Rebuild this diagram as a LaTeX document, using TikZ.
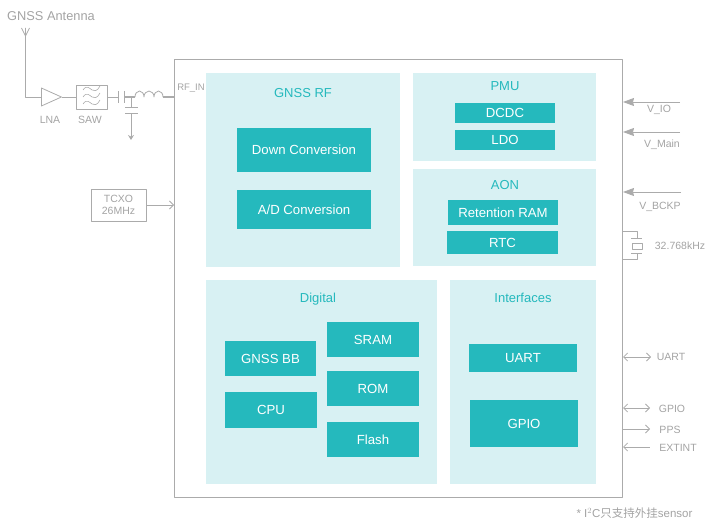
\documentclass[tikz,border=0pt]{standalone}
\usepackage{fontspec}
\setmainfont{Liberation Sans}
\newfontfamily\cjkfont{Noto Sans CJK SC}
\usetikzlibrary{shapes.geometric,arrows.meta}
\definecolor{panelbg}{HTML}{D8F1F3}
\definecolor{blockbg}{HTML}{25B9BD}
\definecolor{linegray}{HTML}{ABABAB}
\definecolor{textgray}{HTML}{A3A3A3}
\tikzset{
  panel/.style={fill=panelbg, inner sep=0pt, anchor=north west},
  paneltitle/.style={text=blockbg, font=\fontsize{13}{15}\selectfont},
  block/.style={fill=blockbg, text=white, inner sep=0pt, font=\fontsize{13.2}{15}\selectfont},
  wire/.style={draw=linegray, line width=0.8pt},
  label/.style={text=textgray, inner sep=0pt, font=\fontsize{10.5}{13}\selectfont},
  powerin/.style={wire, -{Stealth[length=11pt,width=8pt,inset=1pt]}},
  openio/.style={wire, {Straight Barb[length=4pt,width=8pt]}-{Straight Barb[length=4pt,width=8pt]}},
  openout/.style={wire, -{Straight Barb[length=4pt,width=8pt]}},
  openin/.style={wire, {Straight Barb[length=4pt,width=8pt]}-}
}
\begin{document}
\begin{tikzpicture}[x=1pt,y=-1pt, line join=round]
    \useasboundingbox (0,0) rectangle (705,519);
    
    % chip outline
    \node[draw=linegray, line width=1pt, inner sep=0pt, minimum width=448pt, minimum height=438pt, anchor=north west] (chip) at (174,59) {};
    
    % panels
    \node[panel, minimum width=194pt, minimum height=194pt] (rf) at (206,73) {};
    \node[panel, minimum width=183pt, minimum height=88pt] (pmu) at (413,73) {};
    \node[panel, minimum width=183pt, minimum height=97pt] (aon) at (413,169) {};
    \node[panel, minimum width=231pt, minimum height=204pt] (digital) at (206,280) {};
    \node[panel, minimum width=146pt, minimum height=204pt] (iface) at (450,280) {};
    \node[paneltitle] at (303,93) {GNSS RF};
    \node[paneltitle] at (505,86) {PMU};
    \node[paneltitle] at (505,185) {AON};
    \node[paneltitle] at (318,299) {Digital};
    \node[paneltitle] at (523,298) {Interfaces};
    
    % blocks
    \node[block, minimum width=134pt, minimum height=44pt] (down) at (304,150) {Down Conversion};
    \node[block, minimum width=134pt, minimum height=39pt] (adc) at (304,209.5) {A/D Conversion};
    \node[block, minimum width=100pt, minimum height=20pt] (dcdc) at (505,113) {DCDC};
    \node[block, minimum width=100pt, minimum height=20pt] (ldo) at (505,140) {LDO};
    \node[block, minimum width=110pt, minimum height=25pt] (ram) at (503,212.5) {Retention RAM};
    \node[block, minimum width=111pt, minimum height=23pt] (rtc) at (502.5,242.5) {RTC};
    \node[block, minimum width=91pt, minimum height=35pt] (bb) at (270.5,358.5) {GNSS BB};
    \node[block, minimum width=92pt, minimum height=36pt] (cpu) at (271,410) {CPU};
    \node[block, minimum width=92pt, minimum height=35pt] (sram) at (373,339.5) {SRAM};
    \node[block, minimum width=92pt, minimum height=35pt] (rom) at (373,388.5) {ROM};
    \node[block, minimum width=92pt, minimum height=35pt] (flash) at (373,439.5) {Flash};
    \node[block, minimum width=108pt, minimum height=28pt] (uart) at (523,358) {UART};
    \node[block, minimum width=108pt, minimum height=47pt] (gpio) at (524,423.5) {GPIO};
    
    % RF chain
    \node[label, font=\fontsize{12.8}{15}\selectfont] at (51,16) {GNSS Antenna};
    \coordinate (ant) at (25.5,36);
    \coordinate (corner) at (25.5,97);
    \draw[wire] (21.5,28)--(ant)--(29.5,28) (ant)--(25.5,28);
    \node[draw=linegray, line width=0.8pt, isosceles triangle, isosceles triangle stretches, inner sep=0pt, minimum height=20pt, minimum width=18pt, anchor=west] (lna) at (41,97) {};
    \node[draw=linegray, line width=0.8pt, inner sep=0pt, minimum width=31pt, minimum height=24pt] (saw) at (91.5,97) {};
    \foreach \dy in {-7,0,7}
        \draw[linegray, line width=0.6pt] (83,97+\dy) .. controls (87,97+\dy-6) and (90,97+\dy-1) .. (92,97+\dy) .. controls (94,97+\dy+1) and (97,97+\dy+2) .. (100,97+\dy-4);
    \draw[wire] (ant)--(corner)--(lna.west);
    \draw[wire] (lna.east)--(saw.west);
    \coordinate (capa) at (118,97);
    \coordinate (capb) at (124,97);
    \coordinate (tee) at (131,97);
    \coordinate (coilin) at (135,97);
    \coordinate (coilout) at (163,97);
    \coordinate (rfpin) at (chip.west |- tee);
    \draw[wire] (saw.east)--(capa);
    \draw[wire, line width=1pt] (118,91)--(118,103) (124,91)--(124,103);
    \draw[wire, line width=1.2pt] (capb)--(coilin);
    \draw[wire] (coilin) arc (180:360:4.5 and 6) arc (180:360:5 and 6) arc (180:360:4.5 and 6);
    \draw[wire, line width=1.2pt] (coilout)--(rfpin);
    \node[label, font=\fontsize{9.5}{12}\selectfont] at (191,88) {RF\_IN};
    \node[label] at (50,120) {LNA};
    \node[label] at (90,120) {SAW};
    \coordinate (shunta) at (131,108);
    \coordinate (shuntb) at (131,114);
    \coordinate (gnd) at (131,140);
    \draw[wire] (tee)--(shunta);
    \draw[wire, line width=1pt] (125,108)--(138,108) (125,114)--(138,114);
    \draw[wire, -{Stealth[length=5pt,width=6pt]}] (shuntb)--(gnd);
    
    % clock
    \node[draw=linegray, line width=0.8pt, inner sep=0pt, minimum width=55pt, minimum height=32pt, text=textgray, align=center, font=\fontsize{10.5}{12.5}\selectfont] (tcxo) at (118.5,205) {TCXO\\26MHz};
    \draw[openout] (tcxo.east)--(tcxo.east -| chip.west);
    
    % supplies
    \foreach \nm/\x/\y/\tx/\ty/\txt in {vio/680/102/659/110/V\_IO, vmain/680/132/662/145/V\_Main, vbckp/681/192/660/207/V\_BCKP}{
        \coordinate (\nm) at (\x,\y);
        \draw[powerin] (\nm)--(\nm -| chip.east);
        \node[label] at (\tx,\ty) {\txt};
    }
    
    % crystal
    \coordinate (xtalt) at (637,231);
    \coordinate (xtalb) at (637,259);
    \node[draw=linegray, line width=0.8pt, inner sep=0pt, minimum width=10pt, minimum height=6pt] (xtal) at (637.5,246) {};
    \draw[wire] (xtalt -| chip.east)--(xtalt)--(637,238);
    \draw[wire] (xtalb -| chip.east)--(xtalb)--(637,253);
    \draw[wire] (631,238)--(642,238) (631,253)--(642,253);
    \node[label] at (680,246) {32.768kHz};
    
    % io
    \coordinate (puart) at (651,357);
    \coordinate (pgpio) at (650,408);
    \coordinate (ppps) at (650,429);
    \coordinate (pext) at (650,447);
    \draw[openio] (puart -| chip.east)--(puart);
    \draw[openio] (pgpio -| chip.east)--(pgpio);
    \draw[openout] (ppps -| chip.east)--(ppps);
    \draw[openin] (pext -| chip.east)--(pext);
    \node[label] at (671,357) {UART};
    \node[label] at (672,409) {GPIO};
    \node[label] at (670,430) {PPS};
    \node[label] at (678,448) {EXTINT};
    
    \node[label, font=\fontsize{11.5}{13}\selectfont] at (634.5,513) {* I$^{2}$C{\cjkfont 只支持外挂}sensor};
\end{tikzpicture}
\end{document}
